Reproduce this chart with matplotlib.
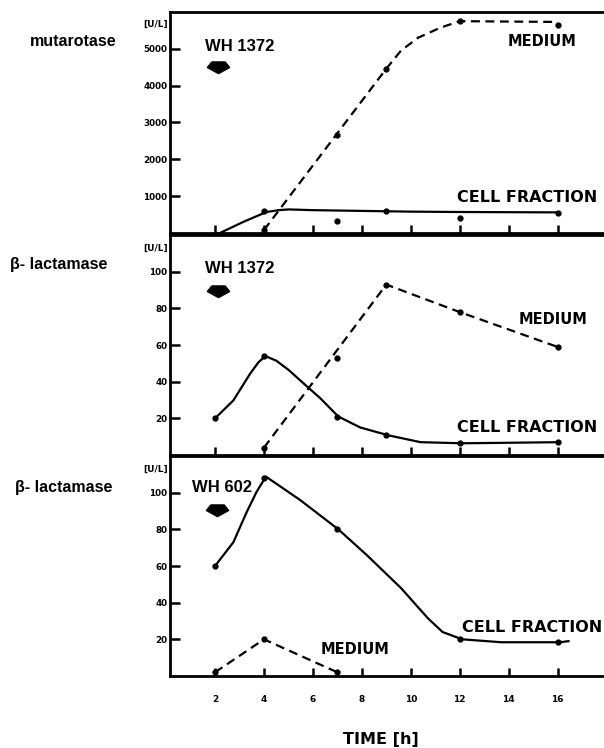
import matplotlib
matplotlib.use("Agg")
import matplotlib.pyplot as plt

# time points (h)
hours = [2, 4, 6, 8, 10, 12, 14, 16]

# --- mutarotase, WH 1372 ---
muta_med_x = [4, 7, 9, 12, 16]
muta_med_y = [80, 2670, 4460, 5750, 5650]
muta_med_trace_x = [4, 9, 9.6, 10.3, 11.2, 12, 15.9, 16]
muta_med_trace_y = [80, 4460, 4950, 5300, 5570, 5750, 5730, 5650]

muta_cell_x = [4, 7, 9, 12, 16]
muta_cell_y = [600, 330, 590, 420, 550]
muta_cell_trace_x = [2.2, 3.15, 4.1, 4.6, 5, 6, 8, 10, 12, 16]
muta_cell_trace_y = [0, 300, 570, 620, 640, 620, 600, 580, 570, 560]

# --- beta-lactamase, WH 1372 ---
bl1_med_x = [4, 7, 9, 12, 16]
bl1_med_y = [4, 53, 93, 78, 59]
bl1_med_trace_x = [4, 9, 12, 16]
bl1_med_trace_y = [4, 93, 78, 59]

bl1_cell_x = [2, 4, 7, 9, 12, 16]
bl1_cell_y = [20, 54, 21, 10.7, 6.4, 7]
bl1_cell_trace_x = [2, 2.75, 3.44, 3.77, 4.05, 4.5, 5.0, 5.5, 6.3, 7.04, 7.94, 9.1, 10.4, 12.1, 16.1]
bl1_cell_trace_y = [20, 29.8, 44.5, 50.5, 54, 51.5, 46.5, 40.5, 31, 21, 15, 10.7, 7, 6.4, 7]

# --- beta-lactamase, WH 602 ---
bl2_med_x = [2, 4, 7]
bl2_med_y = [2, 20, 2]

bl2_cell_x = [2, 4, 7, 12, 16]
bl2_cell_y = [60, 108, 80, 20, 18.5]
bl2_cell_trace_x = [2, 2.75, 3.3, 3.7, 4.08, 5.48, 7.04, 8.2, 9.6, 10.7, 11.3, 12.1, 13.7, 16.1, 16.45]
bl2_cell_trace_y = [60, 73, 89.6, 100.5, 108.8, 96, 80, 66, 48, 31.5, 24, 20, 18.4, 18.4, 19]

bold = dict(fontweight="bold", color="black")
arrow = [(-0.6, 0.5), (0.6, 0.5), (1.0, 0.0), (0.0, -0.55), (-1.0, 0.0), (-0.6, 0.5)]

fig = plt.figure(figsize=(6.04, 7.48), dpi=100)

boxes = [
    [0.2815, 0.6885, 0.7185, 0.2955],
    [0.2815, 0.3917, 0.7185, 0.294],
    [0.2815, 0.0963, 0.7185, 0.294],
]
axes = [fig.add_axes(b) for b in boxes]

for i, ax in enumerate(axes):
    ax.set_xlim(0.16, 17.9)
    ax.set_xticks(hours)
    for s in ["left", "top", "bottom"]:
        ax.spines[s].set_linewidth(2)
    ax.spines["right"].set_visible(False)
    ax.tick_params(axis="y", direction="in", length=7, width=1.8, pad=2, labelsize=6.3)
    ax.tick_params(axis="x", direction="in", length=6, width=1.8, pad=14, labelsize=6.5)
    if i < 2:
        ax.tick_params(axis="x", labelbottom=False)

# top panel
ax = axes[0]
ax.set_ylim(0, 6000)
ax.set_yticks([1000, 2000, 3000, 4000, 5000])
ax.set_yticklabels(["1000", "2000", "3000", "4000", "5000"], fontweight="bold")
ax.plot(muta_med_trace_x, muta_med_trace_y, "k--", lw=1.6, dashes=(4, 2.5))
ax.plot(muta_med_x, muta_med_y, "ko", ms=3.5)
ax.plot(muta_cell_trace_x, muta_cell_trace_y, "k-", lw=1.6)
ax.plot(muta_cell_x, muta_cell_y, "ko", ms=3.5)
ax.text(1.6, 5054, "WH 1372", fontsize=12, va="center", family="Liberation Sans", **bold)
ax.plot([2.13], [4510], marker=arrow, ms=16, color="black")
ax.text(13.96, 5190, "MEDIUM", fontsize=10.5, va="center", **bold)
ax.text(11.9, 970, "CELL FRACTION", fontsize=11.5, va="center", **bold)

# middle panel
ax = axes[1]
ax.set_ylim(0, 120)
ax.set_yticks([20, 40, 60, 80, 100])
ax.set_yticklabels(["20", "40", "60", "80", "100"], fontweight="bold")
ax.plot(bl1_med_trace_x, bl1_med_trace_y, "k--", lw=1.6, dashes=(4, 2.5))
ax.plot(bl1_med_x, bl1_med_y, "ko", ms=3.5)
ax.plot(bl1_cell_trace_x, bl1_cell_trace_y, "k-", lw=1.6)
ax.plot(bl1_cell_x, bl1_cell_y, "ko", ms=3.5)
ax.text(1.6, 102, "WH 1372", fontsize=12, va="center", family="Liberation Sans", **bold)
ax.plot([2.13], [89.5], marker=arrow, ms=16, color="black")
ax.text(14.4, 74, "MEDIUM", fontsize=10.5, va="center", **bold)
ax.text(11.9, 15, "CELL FRACTION", fontsize=11.5, va="center", **bold)

# bottom panel
ax = axes[2]
ax.set_ylim(0, 120)
ax.set_yticks([20, 40, 60, 80, 100])
ax.set_yticklabels(["20", "40", "60", "80", "100"], fontweight="bold")
ax.set_xticklabels([str(h) for h in hours], fontweight="bold")
ax.plot(bl2_med_x, bl2_med_y, "k--", lw=1.6, dashes=(4, 2.5))
ax.plot(bl2_med_x, bl2_med_y, "ko", ms=3.5)
ax.plot(bl2_cell_trace_x, bl2_cell_trace_y, "k-", lw=1.6)
ax.plot(bl2_cell_x, bl2_cell_y, "ko", ms=3.5)
ax.text(1.06, 103, "WH 602", fontsize=12, va="center", family="Liberation Sans", **bold)
ax.plot([2.1], [90.7], marker=arrow, ms=16, color="black")
ax.text(6.3, 14.5, "MEDIUM", fontsize=10.5, va="center", **bold)
ax.text(12.1, 26.6, "CELL FRACTION", fontsize=11.5, va="center", **bold)

# left labels
fig.text(0.05, 0.944, "mutarotase", fontsize=11.5, va="center", family="Liberation Sans", **bold)
fig.text(0.017, 0.646, "β- lactamase", fontsize=11.5, va="center", family="Liberation Sans", **bold)
fig.text(0.025, 0.348, "β- lactamase", fontsize=11.5, va="center", family="Liberation Sans", **bold)

for y in [0.968, 0.668, 0.372]:
    fig.text(0.237, y, "[U/L]", fontsize=6.5, va="center", **bold)

fig.text(0.631, 0.012, "TIME [h]", fontsize=11.5, ha="center", va="center", **bold)

fig.savefig("out.png", dpi=100)
